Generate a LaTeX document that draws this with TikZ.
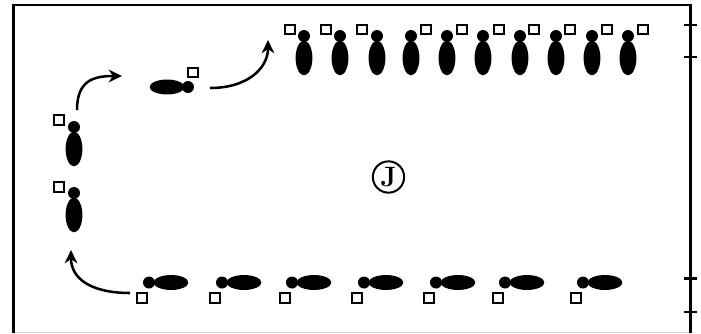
\documentclass[tikz,border=0pt]{standalone}
\usepackage{amssymb}
\usepackage{amsmath}
\usepackage{tikz}
\usetikzlibrary{calc,arrows,arrows.meta}

\tikzset{
	cone/.style={draw, line width=1.7pt, minimum size=7pt, inner sep=0pt, fill=white},
	walk/.style={line width=1.9pt, -{Stealth[length=10pt,width=9.5pt]}},
	player/.pic={\fill (0,22) ellipse (6.3pt and 13pt); \fill (0,0) circle (4.5pt);},
	playerflat/.pic={\fill (#1,0) ellipse (13pt and 5.6pt); \fill (0,0) circle (4.5pt);},
}

\begin{document}
\begin{tikzpicture}[x=0.75pt,y=-0.75pt]
	\useasboundingbox (0,0) rectangle (701,333);
	\draw[gray!30] (13.5,332.5)--(690.5,332.5);
	\draw[line width=2pt] (13.5,333) |- (690.5,5) -- (690.5,333);	%frame
	\draw[line width=2pt] (684,25)--(697,25);
	\draw[line width=2pt] (684,57)--(697,57);
	\draw[line width=2pt] (684,278.5)--(697,278.5);
	\draw[line width=2pt] (684,312)--(697,312);
	
	\node[circle, draw, line width=1.5pt, minimum size=23.5pt, inner sep=0pt,
		font=\fontsize{21}{21}\selectfont\bfseries] (j) at (388.5,177) {J};
	
	\pic at (304,36) {player}; \node[cone] (t1) at (290,29.5) {};		%top
	\pic at (340,36) {player}; \node[cone] (t2) at (326,29.5) {};
	\pic at (377,36) {player}; \node[cone] (t3) at (362,29.5) {};
	\pic at (411,36) {player}; \node[cone] (t4) at (426,29.5) {};
	\pic at (447,36) {player}; \node[cone] (t5) at (462,29.5) {};
	\pic at (483,36) {player}; \node[cone] (t6) at (499,29.5) {};
	\pic at (520,36) {player}; \node[cone] (t7) at (534,29.5) {};
	\pic at (556,36) {player}; \node[cone] (t8) at (570,29.5) {};
	\pic at (592,36) {player}; \node[cone] (t9) at (607,29.5) {};
	\pic at (628,36) {player}; \node[cone] (t10) at (643,29.5) {};
	
	\pic at (74,127) {player}; \node[cone] (l1) at (59,120) {};		%left
	\pic at (74,193) {player}; \node[cone] (l2) at (59,187) {};
	\pic at (188,87) {playerflat=-21}; \node[cone] (m1) at (193,72.5) {};	%middle
	
	\pic at (149,282.5) {playerflat=22}; \node[cone] (b1) at (142,298) {};	%bottom
	\pic at (222,282.5) {playerflat=22}; \node[cone] (b2) at (215,298) {};
	\pic at (292,282.5) {playerflat=22}; \node[cone] (b3) at (285,298) {};
	\pic at (364,282.5) {playerflat=22}; \node[cone] (b4) at (357,298) {};
	\pic at (436,282.5) {playerflat=22}; \node[cone] (b5) at (429,298) {};
	\pic at (505,282.5) {playerflat=22}; \node[cone] (b6) at (498,298) {};
	\pic at (583,282.5) {playerflat=22}; \node[cone] (b7) at (576,298) {};
	
	\coordinate (a1s) at (77,110);	\coordinate (a1e) at (122,76);
	\coordinate (a2s) at (210,88);	\coordinate (a2e) at (268,40);
	\coordinate (a3s) at (130,293);	\coordinate (a3e) at (71,250);
	\draw[walk] (a1s) .. controls +(0,-30) and +(-28,0) .. (a1e);	%left up
	\draw[walk] (a2s) .. controls +(38,0) and +(0,28) .. (a2e);		%middle up
	\draw[walk] (a3s) .. controls +(-40,0) and +(0,28) .. (a3e);	%bottom up
\end{tikzpicture}
\end{document}
